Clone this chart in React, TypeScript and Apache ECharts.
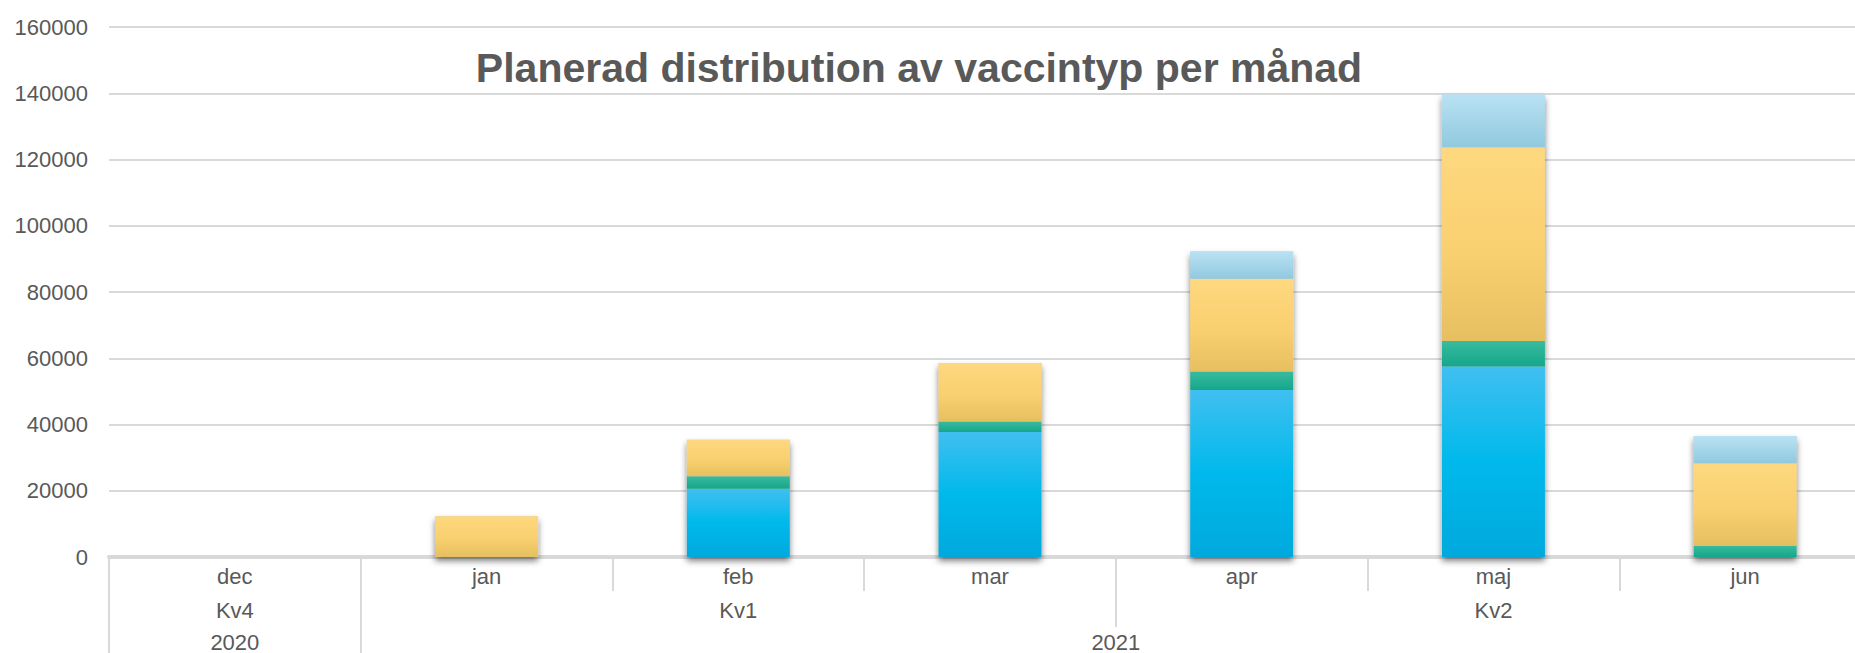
import React, { useEffect, useRef } from "react";
import * as echarts from "echarts";

const months = ["dec", "jan", "feb", "mar", "apr", "maj", "jun"];
const quarters = [
  { name: "Kv4", start: 0, end: 0 },
  { name: "Kv1", start: 1, end: 3 },
  { name: "Kv2", start: 4, end: 6 },
];
const years = [
  { name: "2020", start: 0, end: 0 },
  { name: "2021", start: 1, end: 6 },
];

const seriesNames = ["Vaccintyp 1", "Vaccintyp 2", "Vaccintyp 3", "Vaccintyp 4"];
const typ1 = [0, 0, 20600, 37700, 50400, 57500, 0];
const typ2 = [0, 0, 3800, 3200, 5600, 7700, 3400];
const typ3 = [0, 12300, 11000, 17700, 28000, 58500, 24900];
const typ4 = [0, 0, 0, 0, 8200, 16000, 8200];

const yTicks = { min: 0, max: 160000, interval: 20000 };
const title = "Planerad distribution av vaccintyp per månad";

const FONT = "'Liberation Sans', Arial, sans-serif";
const TXT = "#595959";
const GRIDC = "#d9d9d9";

export default function App() {
  const ref = useRef<HTMLDivElement>(null);
  useEffect(() => {
    document.body.style.margin = "0";
    document.body.style.overflow = "hidden";
    if (!ref.current) return;
    const chart = echarts.init(ref.current, null, { renderer: "svg" });
    const grad = (stops: [number, string][]) =>
      new echarts.graphic.LinearGradient(
        0, 0, 0, 1,
        stops.map(([offset, color]) => ({ offset, color }))
      );
    const colors = [
      grad([[0, "#40bff0"], [0.5, "#00b9ec"], [1, "#00a9dd"]]),
      grad([[0, "#38bb9f"], [1, "#15a68a"]]),
      grad([[0, "#fed880"], [0.55, "#f9d06f"], [1, "#e6bf60"]]),
      grad([[0, "#b9e2f3"], [1, "#91c9df"]]),
    ];
    const data = [typ1, typ2, typ3, typ4];
    const totals = months.map((_, i) => data.reduce((s, arr) => s + arr[i], 0));
    const BW = 103;
    const quarterBounds = quarters.map((q) => q.start);
    const yearBounds = years.map((y) => y.start);
    const center = (g: { start: number; end: number }) => (g.start + g.end) / 2;

    const baseCat = {
      type: "category",
      data: months,
      position: "bottom",
      gridIndex: 0,
    };

    chart.setOption({
      animation: false,
      title: {
        text: title,
        left: 914,
        top: 42,
        textAlign: "center",
        textStyle: { fontFamily: FONT, fontSize: 41, fontWeight: "bold", color: TXT },
      },
      grid: { left: 109, top: 27, right: 0, height: 533 },
      xAxis: [
        {
          ...baseCat,
          axisLine: { show: true, lineStyle: { color: GRIDC, width: 4 } },
          axisTick: { show: true, interval: 0, length: 34, lineStyle: { color: GRIDC, width: 2 } },
          axisLabel: { interval: 0, margin: 8, fontSize: 22, color: TXT, fontFamily: FONT },
        },
        {
          ...baseCat,
          axisLine: { show: false },
          axisTick: {
            show: true,
            interval: (idx: number) => quarterBounds.includes(idx),
            length: 70,
            lineStyle: { color: GRIDC, width: 2 },
          },
          axisLabel: {
            interval: 0,
            margin: 42,
            fontSize: 22,
            color: TXT,
            fontFamily: FONT,
            formatter: (_v: string, idx: number) => {
              const q = quarters.find((g) => center(g) === idx);
              return q ? q.name : "";
            },
          },
        },
        {
          ...baseCat,
          axisLine: { show: false },
          axisTick: {
            show: true,
            interval: (idx: number) => yearBounds.includes(idx),
            length: 100,
            lineStyle: { color: GRIDC, width: 2 },
          },
          axisLabel: { show: false },
        },
        {
          type: "value",
          position: "bottom",
          gridIndex: 0,
          min: -0.5,
          max: months.length - 0.5,
          interval: 0.5,
          axisLine: { show: false },
          axisTick: { show: false },
          splitLine: { show: false },
          axisLabel: {
            margin: 74,
            fontSize: 22,
            color: TXT,
            fontFamily: FONT,
            showMinLabel: true,
            showMaxLabel: true,
            formatter: (v: number) => {
              const y = years.find((g) => Math.abs(center(g) - v) < 1e-6);
              return y ? y.name : "";
            },
          },
        },
      ],
      yAxis: {
        type: "value",
        min: yTicks.min,
        max: yTicks.max,
        interval: yTicks.interval,
        axisLine: { show: false },
        axisTick: { show: false },
        splitLine: { lineStyle: { color: GRIDC, width: 2 } },
        axisLabel: {
          margin: 21,
          fontSize: 22,
          color: TXT,
          fontFamily: FONT,
          formatter: (v: number) => String(v),
        },
      },
      series: [
        {
          name: "total",
          type: "bar",
          xAxisIndex: 0,
          data: totals,
          barWidth: BW,
          barGap: "-100%",
          z: 1,
          silent: true,
          itemStyle: {
            color: "#c8c8c8",
            shadowBlur: 6,
            shadowColor: "rgba(0,0,0,0.5)",
            shadowOffsetX: 0,
            shadowOffsetY: 4,
          },
        },
        ...data.map((arr, i) => ({
          name: seriesNames[i],
          type: "bar",
          stack: "vacc",
          xAxisIndex: 0,
          data: arr,
          barWidth: BW,
          barGap: "-100%",
          z: 2,
          itemStyle: { color: colors[i] },
        })),
      ],
    });
    return () => chart.dispose();
  }, []);
  return <div ref={ref} style={{ width: 1874, height: 653 }} />;
}
